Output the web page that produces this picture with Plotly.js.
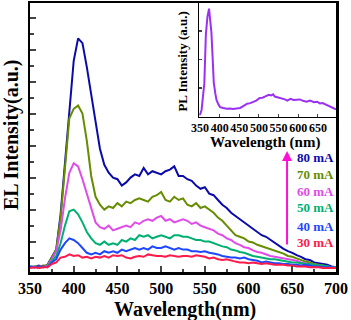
<!DOCTYPE html>
<html>
<head>
<meta charset="utf-8">
<script src="https://cdn.plot.ly/plotly-3.0.1.min.js"></script>
<style>
  html, body { margin: 0; padding: 0; background: #fff; }
  #plot { width: 351px; height: 320px; }
</style>
</head>
<body>
<div id="plot"></div>
<script>
// EL spectra, wavelength in nm
const wavelength = [350, 355, 360, 365, 370, 375, 380, 385, 390, 395, 400, 405, 410, 415, 420, 425, 430, 435, 440, 445,
  450, 455, 460, 465, 470, 475, 480, 485, 490, 495, 500, 505, 510, 515, 520, 525, 530, 535, 540, 545,
  550, 555, 560, 565, 570, 575, 580, 585, 590, 595, 600, 605, 610, 615, 620, 625, 630, 635, 640, 645,
  650, 655, 660, 665, 670, 675, 680, 685, 690, 695, 700];

const el80 = [0.35, 0.3, 0.4, 0.3, 0.45, 0.9, 1.4, 3.6, 6.8, 10.0, 13.2, 14.6, 14.3, 12.8, 11.2, 9.4, 7.7, 6.7, 6.2, 5.9,
  5.8, 5.4, 5.6, 5.9, 6.1, 6.0, 6.5, 6.1, 6.3, 6.2, 6.1, 6.3, 6.4, 6.6, 6.0, 6.0, 5.8, 5.7, 5.4, 5.2,
  5.3, 4.9, 4.8, 4.5, 4.2, 4.0, 3.7, 3.5, 3.3, 3.1, 2.9, 2.7, 2.5, 2.3, 2.2, 2.0, 1.8, 1.6, 1.45, 1.3,
  1.2, 1.05, 0.95, 0.8, 0.75, 0.6, 0.55, 0.5, 0.45, 0.35, 0.3];
const el70 = [0.3, 0.35, 0.3, 0.4, 0.4, 0.9, 1.4, 3.4, 6.6, 9.6, 10.2, 10.4, 9.9, 8.2, 6.0, 4.7, 4.2, 3.9, 4.1, 4.0,
  4.3, 4.1, 4.4, 4.3, 4.5, 4.6, 4.5, 4.4, 4.7, 4.8, 5.0, 4.5, 4.4, 4.7, 4.5, 4.6, 4.2, 4.1, 4.3, 4.0,
  4.1, 3.9, 3.7, 3.4, 3.2, 2.9, 2.6, 2.3, 2.2, 2.1, 1.9, 1.85, 1.7, 1.6, 1.5, 1.4, 1.3, 1.25, 1.15, 1.0,
  0.95, 0.85, 0.75, 0.65, 0.6, 0.5, 0.45, 0.4, 0.35, 0.3, 0.3];
const el60 = [0.3, 0.3, 0.35, 0.3, 0.4, 0.8, 1.3, 2.6, 4.6, 6.2, 6.8, 6.6, 5.8, 4.9, 4.0, 3.1, 2.8, 2.7, 2.9, 2.6,
  2.7, 2.8, 2.9, 2.8, 3.1, 3.0, 3.2, 3.3, 3.2, 3.4, 3.5, 3.2, 3.3, 3.1, 3.2, 3.3, 3.2, 3.0, 3.1, 2.9,
  2.8, 2.7, 2.6, 2.4, 2.3, 2.1, 2.0, 1.8, 1.7, 1.55, 1.5, 1.35, 1.25, 1.2, 1.1, 1.0, 0.95, 0.9, 0.85, 0.8,
  0.75, 0.7, 0.6, 0.55, 0.5, 0.45, 0.4, 0.35, 0.35, 0.3, 0.25];
const el50 = [0.3, 0.35, 0.3, 0.3, 0.35, 0.7, 1.0, 1.8, 2.9, 3.8, 3.9, 3.6, 3.1, 2.5, 2.1, 1.8, 1.7, 1.9, 1.7, 1.8,
  1.7, 2.0, 1.9, 2.1, 2.0, 2.3, 2.2, 2.3, 2.1, 2.2, 2.3, 2.2, 2.1, 2.3, 2.3, 2.2, 2.2, 2.1, 2.0, 2.0,
  1.9, 1.9, 1.8, 1.7, 1.6, 1.55, 1.4, 1.35, 1.25, 1.2, 1.1, 1.0, 0.95, 0.9, 0.85, 0.8, 0.8, 0.75, 0.7, 0.65,
  0.6, 0.6, 0.55, 0.5, 0.5, 0.45, 0.4, 0.4, 0.35, 0.3, 0.3];
const el40 = [0.35, 0.3, 0.3, 0.35, 0.3, 0.6, 0.8, 1.4, 1.8, 2.1, 2.0, 1.8, 1.5, 1.2, 1.1, 1.2, 1.1, 1.3, 1.2, 1.3,
  1.2, 1.4, 1.3, 1.4, 1.5, 1.4, 1.5, 1.4, 1.6, 1.5, 1.5, 1.6, 1.5, 1.4, 1.5, 1.4, 1.4, 1.3, 1.3, 1.25,
  1.3, 1.2, 1.15, 1.1, 1.0, 0.95, 0.9, 0.9, 0.85, 0.9, 0.8, 0.75, 0.7, 0.6, 0.65, 0.6, 0.55, 0.55, 0.5, 0.5,
  0.45, 0.45, 0.4, 0.45, 0.4, 0.35, 0.35, 0.3, 0.3, 0.3, 0.25];
const el30 = [0.25, 0.3, 0.25, 0.3, 0.3, 0.5, 0.6, 0.9, 0.95, 1.1, 1.0, 1.05, 0.9, 0.95, 0.85, 0.95, 0.9, 1.0, 0.9, 1.05,
  1.0, 1.05, 0.9, 0.85, 0.95, 1.0, 0.95, 1.1, 1.05, 1.0, 1.0, 0.95, 1.05, 1.0, 0.95, 1.0, 1.0, 0.95, 1.05, 1.0,
  0.95, 0.85, 0.9, 0.8, 0.75, 0.8, 0.7, 0.65, 0.6, 0.6, 0.55, 0.6, 0.55, 0.5, 0.55, 0.5, 0.45, 0.45, 0.45, 0.4,
  0.4, 0.35, 0.35, 0.35, 0.3, 0.3, 0.3, 0.25, 0.25, 0.25, 0.25];

const currents = ["80 mA", "70 mA", "60 mA", "50 mA", "40 mA", "30 mA"];
const colors = ["#0a0aaa", "#668c00", "#e04ce8", "#00b070", "#1f46ff", "#ff1a4a"];
const elSeries = [el80, el70, el60, el50, el40, el30];

// PL spectrum for the inset
const plWavelength = [348, 351, 354, 357, 361, 365, 369, 373, 376, 379, 382, 385, 389, 392, 396, 401, 409, 418, 426, 434,
  443, 452, 458, 464, 470, 478, 485, 493, 502, 509, 515, 520, 525, 531, 536, 540, 546, 553, 560, 566,
  572, 580, 588, 596, 604, 612, 621, 630, 640, 648, 655, 662, 670, 678, 685, 690, 696];
const plIntensity = [0.05, 0.1, 0.23, 0.55, 1.17, 2.9, 3.5, 3.78, 3.45, 2.95, 2.1, 1.2, 0.8, 0.58, 0.45, 0.33, 0.3, 0.27, 0.28, 0.26,
  0.28, 0.3, 0.35, 0.4, 0.45, 0.47, 0.5, 0.56, 0.65, 0.66, 0.7, 0.72, 0.76, 0.74, 0.78, 0.7, 0.68, 0.64, 0.62, 0.6,
  0.56, 0.62, 0.58, 0.58, 0.6, 0.55, 0.52, 0.56, 0.5, 0.52, 0.46, 0.47, 0.42, 0.38, 0.33, 0.29, 0.25];
const plTicks = [350, 400, 450, 500, 550, 600, 650];

const serif = "Liberation Serif, Times New Roman, serif";

const traces = elSeries.map((ys, i) => ({
  x: wavelength,
  y: ys,
  mode: "lines",
  name: currents[i],
  line: { color: colors[i], width: 2 },
  hoverinfo: "skip",
}));

traces.push({
  x: plWavelength,
  y: plIntensity,
  xaxis: "x2",
  yaxis: "y2",
  mode: "lines",
  line: { color: "#9b30f5", width: 2 },
  hoverinfo: "skip",
});

function label(text, x, y, size, angle) {
  return {
    xref: "paper", yref: "paper",
    x: x, y: y,
    xanchor: "center", yanchor: "middle",
    text: "<b>" + text + "</b>",
    textangle: angle || 0,
    showarrow: false,
    borderpad: 0,
    font: { family: serif, size: size, color: "#000" },
  };
}

const legendY = [0.4275, 0.364, 0.301, 0.238, 0.171, 0.108];
const annotations = currents.map((name, i) => ({
  xref: "paper", yref: "paper",
  x: 0.866, y: legendY[i],
  xanchor: "left", yanchor: "middle",
  text: "<b>" + name + "</b>",
  showarrow: false,
  font: { family: serif, size: 13, color: colors[i] },
}));

annotations.push(
  {
    xref: "paper", yref: "paper",
    x: 0.84, y: 0.45,
    ax: 0, ay: 95,
    text: "",
    showarrow: true,
    arrowhead: 2, arrowsize: 1, arrowwidth: 2,
    arrowcolor: "#ff10d8",
  },
  label("EL Intensity(a.u.)", -0.062, 0.509, 20, -90),
  label("Wavelength(nm)", 0.5065, -0.139, 20),
  label("Wavelength (nm)", 0.768, 0.482, 15),
  label("PL Intensity (a.u.)", 0.499, 0.781, 13, -90)
);

const layout = {
  width: 351,
  height: 320,
  margin: { t: 3, r: 15, b: 48, l: 30 },
  paper_bgcolor: "#fff",
  plot_bgcolor: "#fff",
  showlegend: false,
  font: { family: serif, color: "#000" },
  xaxis: {
    range: [350, 700],
    tickvals: [350, 400, 450, 500, 550, 600, 650, 700],
    ticktext: ["<b>350</b>", "<b>400</b>", "<b>450</b>", "<b>500</b>", "<b>550</b>", "<b>600</b>", "<b>650</b>", "<b>700</b>"],
    tickangle: 0,
    ticks: "inside",
    ticklen: 6,
    tickwidth: 2,
    minor: { dtick: 25, tick0: 375, ticks: "inside", ticklen: 3, tickwidth: 2, showgrid: false },
    showline: true,
    linewidth: 2.5,
    linecolor: "#000",
    mirror: true,
    showgrid: false,
    zeroline: false,
    tickfont: { family: serif, size: 16, color: "#000" },
  },
  yaxis: {
    range: [0, 16.81],
    tick0: 1.875,
    dtick: 2,
    ticks: "inside",
    ticklen: 6,
    tickwidth: 2,
    minor: { tick0: 0.875, dtick: 1, ticks: "inside", ticklen: 4, tickwidth: 2, showgrid: false },
    showticklabels: false,
    showline: true,
    linewidth: 2.5,
    linecolor: "#000",
    mirror: true,
    showgrid: false,
    zeroline: false,
  },
  xaxis2: {
    domain: [0.553, 1],
    anchor: "y2",
    range: [348, 696],
    tickvals: plTicks,
    ticktext: plTicks.map((t) => "<b>" + t + "</b>"),
    tickangle: 0,
    ticks: "inside",
    ticklen: 3,
    tickwidth: 1,
    showline: true,
    linewidth: 1.5,
    linecolor: "#000",
    showgrid: false,
    zeroline: false,
    tickfont: { family: serif, size: 12, color: "#000" },
  },
  yaxis2: {
    domain: [0.578, 1],
    anchor: "x2",
    range: [0, 3.98],
    tickvals: [1, 2, 3],
    ticks: "inside",
    ticklen: 3,
    tickwidth: 1.5,
    showticklabels: false,
    showline: true,
    linewidth: 1.5,
    linecolor: "#000",
    showgrid: false,
    zeroline: false,
  },
  annotations: annotations,
};

Plotly.newPlot("plot", traces, layout, { displayModeBar: false, staticPlot: true });
</script>
</body>
</html>
